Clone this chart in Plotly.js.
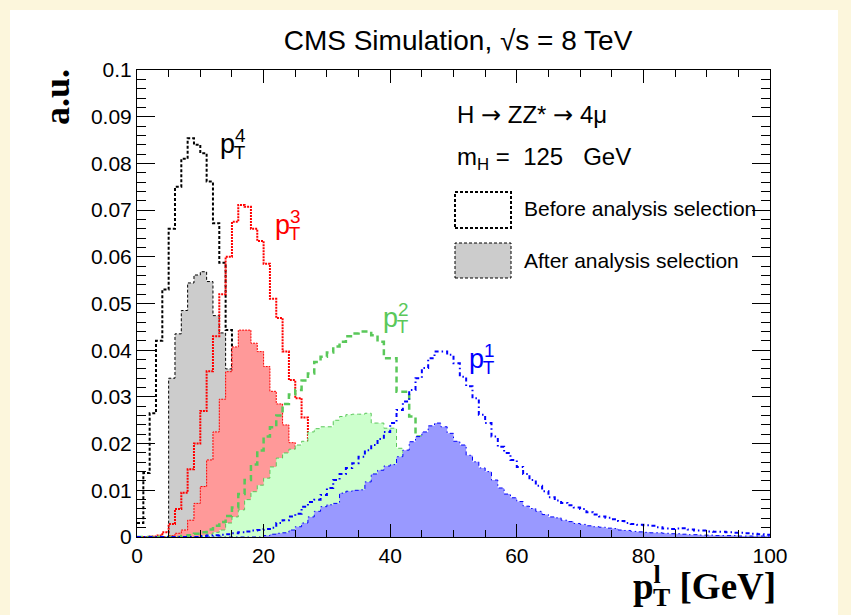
<!DOCTYPE html>
<html><head><meta charset="utf-8">
<script src="https://cdn.plot.ly/plotly-3.0.1.min.js"></script>
<style>
html,body{margin:0;padding:0;background:#fcf6dc;}
#chart{width:851px;height:615px;background:linear-gradient(#ffffff,#ffffff) no-repeat 10px 10px / 828px 605px, #fcf6dc;}
</style></head><body>
<div id="chart"></div>
<script>
// Histograms: 1 GeV bins from 0 to 100 GeV; each series starts at bin index given by *Start
const nBins = 100;

const pt4BeforeStart = 0;
const pt4Before = [0.003, 0.0137, 0.0265, 0.042, 0.053, 0.066, 0.075, 0.081, 0.0854, 0.084, 0.0822, 0.0761, 0.0672, 0.0587, 0.0443, 0.033, 0.024, 0.016, 0.010, 0.006, 0.0035, 0.002, 0.0012, 0.0007, 0.0004, 0.0002];

const pt4AfterStart = 5;
const pt4After = [0.034, 0.0435, 0.0485, 0.0544, 0.0561, 0.0568, 0.0547, 0.0474, 0.0437, 0.036, 0.025, 0.017, 0.011, 0.007, 0.0045, 0.0028, 0.0017, 0.001, 0.0006, 0.0003];

const pt3BeforeStart = 2;
const pt3Before = [0.0001, 0.0003, 0.001, 0.0028, 0.006, 0.0095, 0.0145, 0.02, 0.027, 0.0355, 0.043, 0.052, 0.060, 0.0675, 0.0711, 0.0707, 0.066, 0.0634, 0.0585, 0.051, 0.0469, 0.0397, 0.0336, 0.0297, 0.0256, 0.0205, 0.016, 0.0125, 0.0095, 0.0072, 0.0055, 0.0042, 0.0032, 0.0025, 0.0019, 0.0015, 0.0012, 0.0009, 0.0007, 0.0005, 0.0004, 0.0003, 0.0003, 0.0002, 0.0002, 0.0001, 0.0001];

const pt3AfterStart = 5;
const pt3After = [0.0003, 0.0008, 0.0015, 0.0036, 0.0072, 0.0108, 0.0165, 0.0225, 0.0295, 0.0354, 0.0407, 0.0443, 0.0443, 0.0415, 0.0397, 0.0365, 0.0312, 0.0285, 0.024, 0.0202, 0.0183, 0.015, 0.012, 0.0095, 0.0075, 0.006, 0.0046, 0.0036, 0.0028, 0.0022, 0.0017, 0.0013, 0.001, 0.0008, 0.0006, 0.0005, 0.0004, 0.0003, 0.0003, 0.0002, 0.0002, 0.0001];

const pt2BeforeStart = 7;
const pt2Before = [0.0002, 0.0004, 0.0007, 0.001, 0.0016, 0.0024, 0.0032, 0.0045, 0.0063, 0.0092, 0.0122, 0.0155, 0.0185, 0.0215, 0.0235, 0.026, 0.0285, 0.0305, 0.0315, 0.0335, 0.035, 0.0375, 0.0386, 0.0395, 0.0408, 0.0418, 0.043, 0.0436, 0.044, 0.044, 0.0432, 0.0418, 0.0383, 0.0383, 0.0311, 0.0311, 0.0258, 0.0215, 0.0165, 0.012, 0.009, 0.0068, 0.0052, 0.004, 0.003, 0.0023, 0.0018, 0.0014, 0.0011, 0.0009, 0.0007, 0.0005, 0.0004, 0.0003, 0.0002, 0.0002, 0.0001, 0.0001];

const pt2AfterStart = 10;
const pt2After = [0.0003, 0.0006, 0.001, 0.0015, 0.003, 0.0043, 0.0058, 0.008, 0.0097, 0.0111, 0.0126, 0.015, 0.0169, 0.018, 0.0188, 0.0197, 0.0205, 0.0225, 0.0232, 0.0236, 0.0236, 0.025, 0.0258, 0.0262, 0.0263, 0.0263, 0.0265, 0.0244, 0.0244, 0.0233, 0.0233, 0.019, 0.018, 0.013, 0.0105, 0.008, 0.006, 0.0045, 0.0034, 0.0026, 0.002, 0.0015, 0.0011, 0.0008, 0.0006, 0.0005, 0.0004, 0.0003, 0.0002, 0.0002, 0.0001];

const pt1BeforeStart = 10;
const pt1Before = [0.0002, 0.0003, 0.0004, 0.0005, 0.0006, 0.0008, 0.001, 0.0012, 0.0014, 0.0015,
  0.0017, 0.002, 0.003, 0.0036, 0.0044, 0.005, 0.0065, 0.0075, 0.008, 0.009,
  0.0105, 0.0122, 0.0135, 0.0148, 0.0158, 0.0172, 0.0186, 0.0197, 0.021, 0.0225,
  0.0244, 0.0272, 0.029, 0.0315, 0.034, 0.0362, 0.0383, 0.0397, 0.0397, 0.039,
  0.0372, 0.0343, 0.0323, 0.0297, 0.0262, 0.0244, 0.0215, 0.0193, 0.018, 0.0165,
  0.015, 0.0135, 0.0122, 0.011, 0.0098, 0.0085, 0.0078, 0.0073, 0.0068, 0.0063,
  0.006, 0.0053, 0.0048, 0.0044, 0.0041, 0.0038, 0.0034, 0.003, 0.0028, 0.0026,
  0.0025, 0.0024, 0.0021, 0.0018, 0.0017, 0.0018, 0.0019, 0.0016, 0.0014, 0.0014,
  0.0012, 0.0011, 0.0011, 0.001, 0.0009, 0.0009, 0.0008, 0.0007, 0.0006, 0.0005];

const pt1AfterStart = 20;
const pt1After = [0.0003, 0.0006, 0.0008, 0.0009, 0.0015, 0.0022, 0.003, 0.0043, 0.0055, 0.0065,
  0.0069, 0.0072, 0.0094, 0.0098, 0.010, 0.0101, 0.0118, 0.0135, 0.0143, 0.0152,
  0.0155, 0.0172, 0.0186, 0.0204, 0.0215, 0.0225, 0.0238, 0.0244, 0.0236, 0.0222,
  0.0205, 0.0197, 0.0175, 0.0161, 0.0148, 0.014, 0.0122, 0.0105, 0.0092, 0.0084,
  0.0076, 0.0066, 0.0061, 0.0055, 0.0048, 0.0043, 0.0041, 0.0036, 0.0033, 0.0029,
  0.0027, 0.0024, 0.0022, 0.0021, 0.0019, 0.0018, 0.0015, 0.0014, 0.0012, 0.0011,
  0.001, 0.0009, 0.0009, 0.0008, 0.0007, 0.0007, 0.0006, 0.0005, 0.0005, 0.0004,
  0.0004, 0.0003, 0.0003, 0.0003, 0.0003, 0.0002, 0.0002, 0.0002, 0.0002, 0.0002];

const xTickVals = [0, 20, 40, 60, 80, 100];
const xTickText = ['0', '20', '40', '60', '80', '100'];
const yTickVals = [0, 0.01, 0.02, 0.03, 0.04, 0.05, 0.06, 0.07, 0.08, 0.09, 0.1];
const yTickText = ['0', '0.01', '0.02', '0.03', '0.04', '0.05', '0.06', '0.07', '0.08', '0.09', '0.1'];

// bin edges
const edges = [];
for (let i = 0; i <= nBins; i++) edges.push(i);

function hist(start, vals) {
  const y = new Array(nBins).fill(0);
  vals.forEach((v, i) => { if (start + i < nBins) y[start + i] = v; });
  y.push(y[nBins - 1]);
  return y;
}

const GREEN = 'rgb(90,200,90)';
function lineTrace(start, vals, color, width, dash) {
  return {type: 'scatter', mode: 'lines', x: edges, y: hist(start, vals),
    line: {shape: 'hv', color: color, width: width, dash: dash},
    hoverinfo: 'skip', showlegend: false};
}
function fillTrace(start, vals, color, fillcolor, dash) {
  return {type: 'scatter', mode: 'lines', x: edges, y: hist(start, vals),
    fill: 'tozeroy', fillcolor: fillcolor,
    line: {shape: 'hv', color: color, width: 1, dash: dash},
    hoverinfo: 'skip', showlegend: false};
}

const traces = [
  lineTrace(pt4BeforeStart, pt4Before, '#000000', 2, '3px,2px'),
  fillTrace(pt4AfterStart, pt4After, '#000000', 'rgb(204,204,204)', '3px,2px'),
  lineTrace(pt3BeforeStart, pt3Before, '#ff0000', 2, '2px,1px'),
  fillTrace(pt3AfterStart, pt3After, '#ff0000', 'rgb(255,153,153)', '2px,1px'),
  lineTrace(pt2BeforeStart, pt2Before, GREEN, 2.5, '6px,4px'),
  fillTrace(pt2AfterStart, pt2After, GREEN, 'rgb(204,255,204)', '4px,3px'),
  lineTrace(pt1BeforeStart, pt1Before, '#0000ff', 2, '4px,3px,1.5px,3px'),
  fillTrace(pt1AfterStart, pt1After, '#0000ff', 'rgb(153,153,255)', '4px,3px,1.5px,3px')
];

const L = 137, W = 633, B = 537, H = 467; // plot-area pixel frame, for placing decorations
const px = v => (v - L) / W;
const py = v => (B - v) / H;

function ptLabel(n) {
  return 'p<sup><span style="letter-spacing:-0.62em">' + n + '</span></sup><sub>T</sub>';
}
const ARROW = '<span style="font-family:DejaVu Sans">\u2192</span>';

const annotations = [
  {text: '<b>a.u.</b>', xref: 'paper', yref: 'paper', x: px(57), y: py(97), textangle: -90,
   showarrow: false, xanchor: 'center', yanchor: 'middle',
   font: {family: 'Liberation Serif, Times New Roman, serif', size: 36, color: '#000'}},
  {text: '<b>p<sup><span style="letter-spacing:-0.3em">l</span></sup><sub>T</sub> [GeV]</b>', xref: 'paper', yref: 'paper',
   x: px(778), y: py(588), showarrow: false, xanchor: 'right', yanchor: 'middle',
   font: {family: 'Liberation Serif, Times New Roman, serif', size: 37, color: '#000'}},
  {text: 'H ' + ARROW + ' ZZ* ' + ARROW + ' 4\u03bc', xref: 'paper', yref: 'paper', x: px(455), y: py(115),
   showarrow: false, xanchor: 'left', yanchor: 'middle', font: {size: 24, color: '#000'}},
  {text: 'm<sub>H</sub> =\u00a0 125\u00a0\u00a0 GeV', xref: 'paper', yref: 'paper', x: px(455), y: py(158),
   showarrow: false, xanchor: 'left', yanchor: 'middle', font: {size: 24, color: '#000'}},
  {text: 'Before analysis selection', xref: 'paper', yref: 'paper', x: px(522), y: py(208),
   showarrow: false, xanchor: 'left', yanchor: 'middle', font: {size: 21, color: '#000'}},
  {text: 'After analysis selection', xref: 'paper', yref: 'paper', x: px(522), y: py(260),
   showarrow: false, xanchor: 'left', yanchor: 'middle', font: {size: 21, color: '#000'}},
  {text: ptLabel(4), xref: 'paper', yref: 'paper', x: px(218), y: py(146), showarrow: false,
   xanchor: 'left', yanchor: 'middle', font: {size: 27, color: '#000000'}},
  {text: ptLabel(3), xref: 'paper', yref: 'paper', x: px(273), y: py(227), showarrow: false,
   xanchor: 'left', yanchor: 'middle', font: {size: 27, color: '#ff0000'}},
  {text: ptLabel(2), xref: 'paper', yref: 'paper', x: px(381), y: py(320), showarrow: false,
   xanchor: 'left', yanchor: 'middle', font: {size: 27, color: GREEN}},
  {text: ptLabel(1), xref: 'paper', yref: 'paper', x: px(467), y: py(361), showarrow: false,
   xanchor: 'left', yanchor: 'middle', font: {size: 27, color: '#0000ff'}}
];

const shapes = [
  {type: 'rect', xref: 'paper', yref: 'paper', x0: px(455), x1: px(511), y0: py(228), y1: py(192),
   line: {color: '#000', width: 2, dash: '3px,2px'}, fillcolor: 'rgba(0,0,0,0)'},
  {type: 'rect', xref: 'paper', yref: 'paper', x0: px(455), x1: px(511), y0: py(278), y1: py(243),
   line: {color: '#000', width: 1, dash: '3px,2px'}, fillcolor: 'rgb(204,204,204)'}
];

const axisCommon = {
  showgrid: false, zeroline: false, showline: true, linecolor: '#000', linewidth: 1,
  mirror: 'ticks', ticks: 'inside', tickcolor: '#000', tickwidth: 1,
  tickfont: {family: 'Liberation Sans, Arial, sans-serif', size: 21, color: '#000'}
};

const layout = {
  width: 851, height: 615,
  margin: {l: 137, r: 81, t: 70, b: 78, pad: 0},
  paper_bgcolor: 'rgba(0,0,0,0)', plot_bgcolor: '#ffffff',
  font: {family: 'Liberation Sans, Arial, sans-serif', size: 21, color: '#000'},
  title: {text: 'CMS Simulation, \u221As = 8 TeV', font: {size: 28, color: '#000'},
    xref: 'container', yref: 'container', x: 458 / 851, xanchor: 'center', y: 1 - 40 / 615, yanchor: 'middle'},
  xaxis: Object.assign({}, axisCommon, {range: [0, 100], tickvals: xTickVals, ticktext: xTickText,
    ticklen: 13, minor: {ticks: 'inside', ticklen: 7, dtick: 5, tick0: 0, tickcolor: '#000', tickwidth: 1, showgrid: false}}),
  yaxis: Object.assign({}, axisCommon, {range: [0, 0.1], tickvals: yTickVals, ticktext: yTickText,
    ticklen: 18, minor: {ticks: 'inside', ticklen: 9, dtick: 0.002, tick0: 0, tickcolor: '#000', tickwidth: 1, showgrid: false}}),
  annotations: annotations,
  shapes: shapes,
  showlegend: false
};

Plotly.newPlot('chart', traces, layout, {displayModeBar: false});
</script>
</body></html>
